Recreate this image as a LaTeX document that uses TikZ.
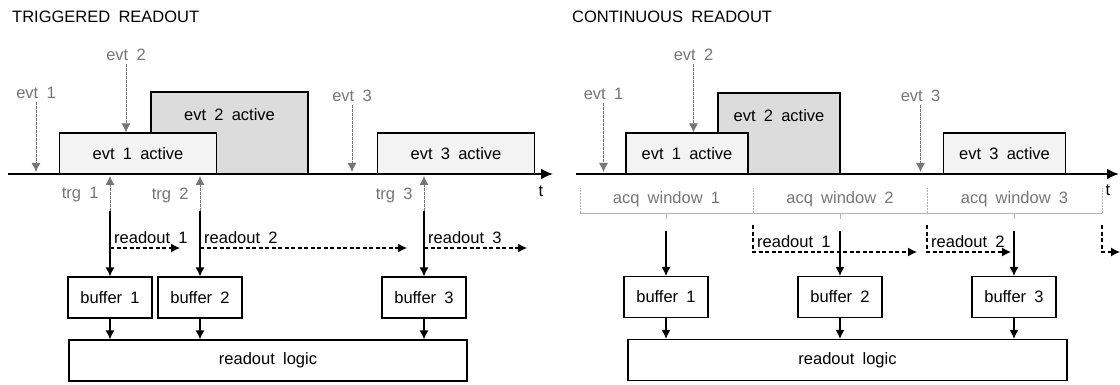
\documentclass[tikz,border=0pt]{standalone}
\usepackage{fontspec}
\setmainfont{Liberation Sans}[WordSpace=1.8]
\usepackage{tikz}
\usetikzlibrary{shapes,arrows,arrows.meta,positioning}
\definecolor{evtgray}{HTML}{767676}
\definecolor{tickgray}{HTML}{B4B4B4}
\definecolor{lightfill}{HTML}{F3F3F3}
\definecolor{darkfill}{HTML}{DCDCDC}
\tikzstyle{active} = [rectangle, draw, line width=1.2pt, fill=lightfill,
    minimum width=157pt, minimum height=41pt, inner sep=0pt]
\tikzstyle{buffer} = [rectangle, draw, line width=1.2pt,
    minimum width=84pt, minimum height=41pt]
\tikzstyle{logic} = [rectangle, draw, line width=1.2pt, minimum height=41pt]
\tikzstyle{evt} = [text=evtgray]
\tikzstyle{title} = [anchor=west, inner sep=0pt, font=\fontsize{16.5}{20}\selectfont]
\tikzstyle{rolabel} = [anchor=south west, inner sep=4pt]
\tikzstyle{line} = [draw, line width=1.2pt, -{Latex[length=9pt,width=9pt]}]
\tikzstyle{axis} = [draw, line width=2.2pt, -{Latex[length=12pt,width=11pt]}]
\tikzstyle{evline} = [draw, evtgray, line width=0.9pt, dash pattern=on 2.5pt off 1.5pt,
    -{Latex[length=9pt,width=9pt]}]
\tikzstyle{roline} = [draw, line width=1.2pt, dash pattern=on 4pt off 2.5pt,
    -{Latex[length=9pt,width=9pt]}]
\tikzstyle{tick} = [draw, tickgray, line width=0.9pt]

\begin{document}
\begin{tikzpicture}[x=1pt, y=-1pt, font=\fontsize{16.5}{19}\selectfont]
    \useasboundingbox (0,0) rectangle (1120,385);
    % Place nodes: triggered readout
    \node [title] (titleL) at (12,17) {TRIGGERED READOUT};
    \node [active, fill=darkfill, minimum height=82pt] (act2L) at (229.5,133) {};
    \node [below=14pt of act2L.north] (act2Ltext) {evt 2 active};
    \node [active] (act1L) at (138,153.5) {evt 1 active};
    \node [active] (act3L) at (456,153.5) {evt 3 active};
    \coordinate (axL0) at (8,174);
    \coordinate (axL1) at (553,174);
    \node (tL) at (541,191) {t};
    \node [evt] (ev1L) at (36,93) {evt 1};
    \node [evt] (ev2L) at (126,55) {evt 2};
    \node [evt] (ev3L) at (352,96) {evt 3};
    \coordinate (tr1L) at (110,211);
    \coordinate (tr2L) at (200,211);
    \coordinate (tr3L) at (424,211);
    \node [evt, anchor=east] (tg1L) at (102,195) {trg 1};
    \node [evt, anchor=east] (tg2L) at (192,195) {trg 2};
    \node [evt, anchor=east] (tg3L) at (416,195) {trg 3};
    \coordinate (ro1L) at (110,248);
    \coordinate (ro1Le) at (180,248);
    \coordinate (ro2L) at (200,248);
    \coordinate (ro2Le) at (407,248);
    \coordinate (ro3L) at (424,248);
    \coordinate (ro3Le) at (527,248);
    \node [rolabel] (rt1L) at (ro1L) {readout 1};
    \node [rolabel] (rt2L) at (ro2L) {readout 2};
    \node [rolabel] (rt3L) at (ro3L) {readout 3};
    \node [buffer] (buf1L) at (110,297.5) {buffer 1};
    \node [buffer] (buf2L) at (200,297.5) {buffer 2};
    \node [buffer] (buf3L) at (424,297.5) {buffer 3};
    \node [logic, minimum width=398pt] (logL) at (268,360.5) {readout logic};
    % Draw edges: triggered readout
    \path [axis] (axL0) -- (axL1);
    \path [evline] (ev1L) -- ([yshift=2pt]ev1L |- axL0);
    \path [evline] (ev2L) -- (ev2L |- act1L.north);
    \path [evline] (ev3L) -- ([yshift=2pt]ev3L |- axL0);
    \foreach \t in {tr1L,tr2L,tr3L}
        \path [evline] (\t) -- ([yshift=-2pt]\t |- axL0);
    \path [line] (tr1L) -- (buf1L);
    \path [line] (tr2L) -- (buf2L);
    \path [line] (tr3L) -- (buf3L);
    \path [roline] (ro1L) -- (ro1Le);
    \path [roline] (ro2L) -- (ro2Le);
    \path [roline] (ro3L) -- (ro3Le);
    \foreach \b in {buf1L,buf2L,buf3L}
        \path [line] (\b) -- (\b |- logL.north);

    % Place nodes: continuous readout
    \node [title] (titleR) at (572,17) {CONTINUOUS READOUT};
    \node [active, fill=darkfill, minimum width=122pt, minimum height=81pt] (act2R) at (779,133.5) {};
    \node [below=14pt of act2R.north] (act2Rtext) {evt 2 active};
    \node [active, minimum width=122pt] (act1R) at (687,153.5) {evt 1 active};
    \node [active, minimum width=122pt] (act3R) at (1004.5,153.5) {evt 3 active};
    \coordinate (axR0) at (576,174);
    \coordinate (axR1) at (1119,174);
    \node (tR) at (1108,190) {t};
    \node [evt] (ev1R) at (603.5,94) {evt 1};
    \node [evt] (ev2R) at (693.5,55) {evt 2};
    \node [evt] (ev3R) at (920.5,96) {evt 3};
    \coordinate (aw0) at (580,213);
    \coordinate (aw1) at (753,213);
    \coordinate (aw2) at (927,213);
    \coordinate (aw3) at (1102,213);
    \node [evt] (acq1R) at (666.5,199) {acq window 1};
    \node [evt] (acq2R) at (840,199) {acq window 2};
    \node [evt] (acq3R) at (1014.5,199) {acq window 3};
    \coordinate (ac1R) at (666,231);
    \coordinate (ac2R) at (840,231);
    \coordinate (ac3R) at (1014,231);
    \coordinate (ro1R) at (753,225);
    \coordinate (ro1Re) at (917,252);
    \coordinate (ro2R) at (927,225);
    \coordinate (ro2Re) at (1011,252);
    \coordinate (ro3R) at (1102,225);
    \coordinate (ro3Re) at (1120,252);
    \node [rolabel] (rt1R) at (ro1R |- ro1Re) {readout 1};
    \node [rolabel] (rt2R) at (ro2R |- ro2Re) {readout 2};
    \node [buffer] (buf1R) at (666,297) {buffer 1};
    \node [buffer] (buf2R) at (840,297) {buffer 2};
    \node [buffer] (buf3R) at (1014,297) {buffer 3};
    \node [logic, minimum width=439pt] (logR) at (847.5,360) {readout logic};
    % Draw edges: continuous readout
    \path [axis] (axR0) -- (axR1);
    \path [evline] (ev1R) -- ([yshift=2pt]ev1R |- axR0);
    \path [evline] (ev2R) -- (ev2R |- act1R.north);
    \path [evline] (ev3R) -- ([yshift=2pt]ev3R |- axR0);
    \path [tick] (aw0) -- (aw3);
    \foreach \w in {aw0,aw1,aw2,aw3}
        \path [tick, dash pattern=on 1.5pt off 1.5pt] (\w) -- ([yshift=25pt]\w);
    \foreach \a in {ac1R,ac2R,ac3R}
        \path [tick] (\a |- aw0) -- ([yshift=-6pt]\a |- aw0);
    \path [line] (ac1R) -- (buf1R);
    \path [line] (ac2R) -- (buf2R);
    \path [line] (ac3R) -- (buf3R);
    \path [roline] (ro1R) |- (ro1Re);
    \path [roline] (ro2R) |- (ro2Re);
    \path [roline] (ro3R) |- (ro3Re);
    \foreach \b in {buf1R,buf2R,buf3R}
        \path [line] (\b) -- (\b |- logR.north);
\end{tikzpicture}
\end{document}
